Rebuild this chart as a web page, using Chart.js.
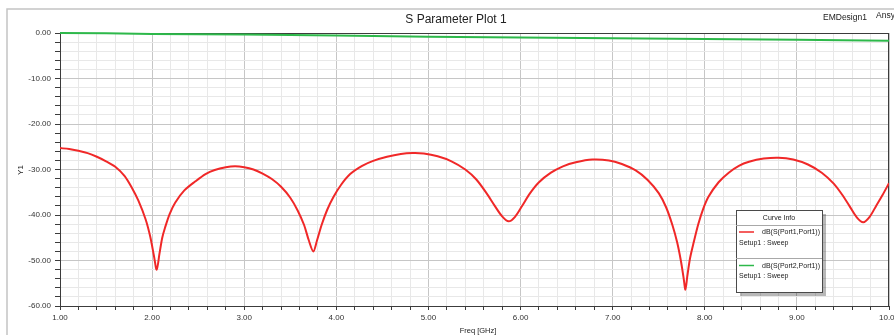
<!DOCTYPE html>
<html>
<head>
<meta charset="utf-8">
<script src="https://cdn.jsdelivr.net/npm/chart.js@4.4.1/dist/chart.umd.min.js"></script>
<style>
  html, body { margin: 0; padding: 0; background: #fff; }
  #wrap { position: relative; width: 894px; height: 335px; }
</style>
</head>
<body>
<div id="wrap"><canvas id="sparam"></canvas></div>
<script>
// S11 (GHz, dB)
const s11Freq = [1.00, 1.10, 1.20, 1.30, 1.40, 1.50, 1.60, 1.70, 1.78, 1.85, 1.93, 1.98, 2.02, 2.05, 2.08, 2.11, 2.14, 2.19, 2.25, 2.35, 2.47, 2.58, 2.68, 2.80, 2.90, 3.00, 3.10, 3.20, 3.30, 3.40, 3.50, 3.58, 3.65, 3.70, 3.75, 3.79, 3.84, 3.90, 3.97, 4.05, 4.15, 4.28, 4.40, 4.55, 4.70, 4.83, 4.95, 5.10, 5.25, 5.40, 5.52, 5.63, 5.72, 5.80, 5.87, 5.94, 6.02, 6.10, 6.20, 6.33, 6.46, 6.60, 6.78, 6.96, 7.10, 7.25, 7.38, 7.50, 7.58, 7.65, 7.70, 7.74, 7.77, 7.79, 7.81, 7.84, 7.88, 7.93, 7.98, 8.04, 8.15, 8.26, 8.37, 8.48, 8.64, 8.80, 8.96, 9.12, 9.27, 9.40, 9.49, 9.57, 9.65, 9.72, 9.79, 9.86, 9.93, 10.00];
const s11dB = [-25.3, -25.5, -25.9, -26.4, -27.2, -28.2, -29.4, -31.4, -34.0, -36.8, -41.0, -44.8, -49.0, -52.0, -48.5, -45.0, -42.8, -39.8, -37.3, -34.6, -32.6, -31.0, -30.1, -29.5, -29.3, -29.5, -30.0, -30.9, -32.1, -33.8, -36.2, -39.0, -42.2, -45.5, -48.0, -45.6, -42.2, -38.9, -36.0, -33.4, -31.0, -29.2, -28.1, -27.2, -26.6, -26.4, -26.5, -27.1, -28.2, -30.0, -32.2, -35.2, -38.0, -40.3, -41.4, -40.4, -37.9, -35.3, -32.8, -30.7, -29.3, -28.4, -27.8, -28.0, -28.8, -30.2, -32.3, -35.2, -38.3, -42.3, -46.0, -50.0, -53.8, -56.4, -53.5, -49.5, -46.0, -42.0, -38.8, -36.0, -32.8, -30.7, -29.2, -28.3, -27.6, -27.4, -27.8, -28.9, -30.7, -33.1, -35.5, -38.0, -40.5, -41.6, -40.4, -38.0, -35.6, -33.0];

// S21 (GHz, dB)
const s21Freq = [1.0, 1.5, 2.0, 3.0, 4.0, 5.0, 6.0, 7.0, 8.0, 9.0, 10.0];
const s21dB = [0.0, -0.05, -0.2, -0.35, -0.55, -0.8, -1.0, -1.15, -1.3, -1.5, -1.7];

// axis ticks: labelled every 1 GHz / 10 dB, minor every 0.2 GHz / 2 dB
const xRange = [1, 10];
const yRange = [-60, 0];
const xMinorStep = 0.2;
const yMinorStep = 2;

const curveNames = ['dB(S(Port1,Port1))', 'dB(S(Port2,Port1))'];
const curveSetup = ['Setup1 : Sweep', 'Setup1 : Sweep'];
const curveColors = ['#f02828', '#2db84a'];

const FONT = '"Liberation Sans", Arial, sans-serif';
const isWhole = v => Math.abs(v - Math.round(v)) < 1e-6;

const toPoints = (xs, ys) => xs.map((x, i) => ({ x: x, y: ys[i] }));

function stepTicks(lo, hi, step) {
    const out = [];
    const n = Math.round((hi - lo) / step);
    for (let i = 0; i <= n; i++) {
        out.push({ value: Math.round((lo + i * step) * 1000) / 1000 });
    }
    return out;
}

// frame, titles, plot borders and the "Curve Info" box
const hfssDecor = {
    id: 'hfssDecor',
    beforeDraw(chart) {
        const { ctx, width, height } = chart;
        ctx.save();
        ctx.fillStyle = '#fff';
        ctx.fillRect(0, 0, width, height);
        ctx.restore();
    },
    beforeDatasetsDraw(chart) {
        const { ctx, chartArea: a } = chart;
        ctx.save();
        ctx.strokeStyle = '#3c3c3c';
        ctx.lineWidth = 1;
        ctx.beginPath();
        ctx.moveTo(a.left, Math.round(a.top) + 0.5);
        ctx.lineTo(a.right, Math.round(a.top) + 0.5);
        ctx.moveTo(Math.round(a.right) - 0.5, a.top);
        ctx.lineTo(Math.round(a.right) - 0.5, a.bottom);
        ctx.stroke();
        ctx.restore();
    },
    afterDraw(chart) {
        const { ctx } = chart;
        ctx.save();

        // outer frame
        ctx.strokeStyle = '#c4c4c4';
        ctx.lineWidth = 1.5;
        ctx.strokeRect(7, 9, 920, 360);

        ctx.fillStyle = '#222';
        ctx.textBaseline = 'middle';
        ctx.textAlign = 'center';
        ctx.font = '12px ' + FONT;
        ctx.fillText('S Parameter Plot 1', 456, 20);

        ctx.textAlign = 'left';
        ctx.font = '8.5px ' + FONT;
        ctx.fillText('EMDesign1', 823, 18);
        ctx.fillText('Ansys', 876, 16);

        ctx.textAlign = 'center';
        ctx.font = '7.5px ' + FONT;
        ctx.fillText('Freq [GHz]', 478, 331);

        ctx.save();
        ctx.translate(21, 170);
        ctx.rotate(-Math.PI / 2);
        ctx.font = '8px ' + FONT;
        ctx.fillText('Y1', 0, 0);
        ctx.restore();

        // Curve Info box
        const bx = 736, by = 210, bw = 86, bh = 82;
        ctx.fillStyle = 'rgba(0,0,0,0.28)';
        ctx.fillRect(bx + 4, by + 4, bw, bh);
        ctx.fillStyle = '#fff';
        ctx.fillRect(bx, by, bw, bh);
        ctx.strokeStyle = '#4a4a4a';
        ctx.lineWidth = 1;
        ctx.strokeRect(bx + 0.5, by + 0.5, bw, bh);

        ctx.strokeStyle = '#a8a8a8';
        ctx.beginPath();
        ctx.moveTo(bx, 225.5); ctx.lineTo(bx + bw, 225.5);
        ctx.moveTo(bx, 258.5); ctx.lineTo(bx + bw, 258.5);
        ctx.stroke();

        ctx.fillStyle = '#222';
        ctx.font = '7px ' + FONT;
        ctx.textAlign = 'center';
        ctx.fillText('Curve Info', bx + bw / 2, 218);

        const rows = [232, 265.5];
        rows.forEach((ry, i) => {
            ctx.strokeStyle = curveColors[i];
            ctx.lineWidth = 1.5;
            ctx.beginPath();
            ctx.moveTo(739, ry); ctx.lineTo(754, ry);
            ctx.stroke();
            ctx.fillStyle = '#222';
            ctx.textAlign = 'left';
            ctx.fillText(curveNames[i], 762, ry + 0.5);
            ctx.fillText(curveSetup[i], 739, ry + 11);
        });

        ctx.restore();
    }
};

const ctx = document.getElementById('sparam').getContext('2d');
new Chart(ctx, {
    type: 'line',
    data: {
        datasets: [{
            label: curveNames[0],
            data: toPoints(s11Freq, s11dB),
            borderColor: curveColors[0],
            borderWidth: 2,
            pointRadius: 0,
            tension: 0.3,
            fill: false
        }, {
            label: curveNames[1],
            data: toPoints(s21Freq, s21dB),
            borderColor: curveColors[1],
            borderWidth: 2,
            pointRadius: 0,
            fill: false,
            clip: false
        }]
    },
    options: {
        responsive: true,
        maintainAspectRatio: false,
        animation: false,
        layout: { padding: { top: 33, right: 5, bottom: 0, left: 0 } },
        plugins: {
            legend: { display: false },
            tooltip: { enabled: false },
            title: { display: false }
        },
        scales: {
            x: {
                type: 'linear',
                min: xRange[0],
                max: xRange[1],
                afterBuildTicks: (s) => { s.ticks = stepTicks(xRange[0], xRange[1], xMinorStep); },
                afterFit: (s) => { s.height = 29; s.paddingLeft = 0; s.paddingRight = 0; },
                ticks: {
                    autoSkip: false,
                    maxRotation: 0,
                    padding: 3,
                    color: '#333',
                    font: { family: FONT, size: 8 },
                    callback: (v) => isWhole(v) ? Number(v).toFixed(2) : ''
                },
                grid: {
                    color: (c) => {
                        const v = c.tick ? c.tick.value : 0;
                        return isWhole(v) ? '#c6c6c6' : '#e8e8e8';
                    },
                    tickColor: '#3c3c3c',
                    tickLength: 4,
                    lineWidth: 1
                },
                border: { display: true, color: '#3c3c3c', width: 1 }
            },
            y: {
                type: 'linear',
                min: yRange[0],
                max: yRange[1],
                afterBuildTicks: (s) => { s.ticks = stepTicks(yRange[0], yRange[1], yMinorStep); },
                afterFit: (s) => { s.width = 60; s.paddingTop = 0; s.paddingBottom = 0; },
                ticks: {
                    autoSkip: false,
                    padding: 4,
                    color: '#333',
                    font: { family: FONT, size: 8 },
                    callback: (v) => Math.round(v) % 10 === 0 ? Number(v).toFixed(2) : ''
                },
                grid: {
                    color: (c) => {
                        const v = c.tick ? Math.round(c.tick.value) : 0;
                        return v % 10 === 0 ? '#c6c6c6' : '#e8e8e8';
                    },
                    tickColor: '#3c3c3c',
                    tickLength: 5,
                    lineWidth: 1
                },
                border: { display: true, color: '#3c3c3c', width: 1 }
            }
        }
    },
    plugins: [hfssDecor]
});
</script>
</body>
</html>
